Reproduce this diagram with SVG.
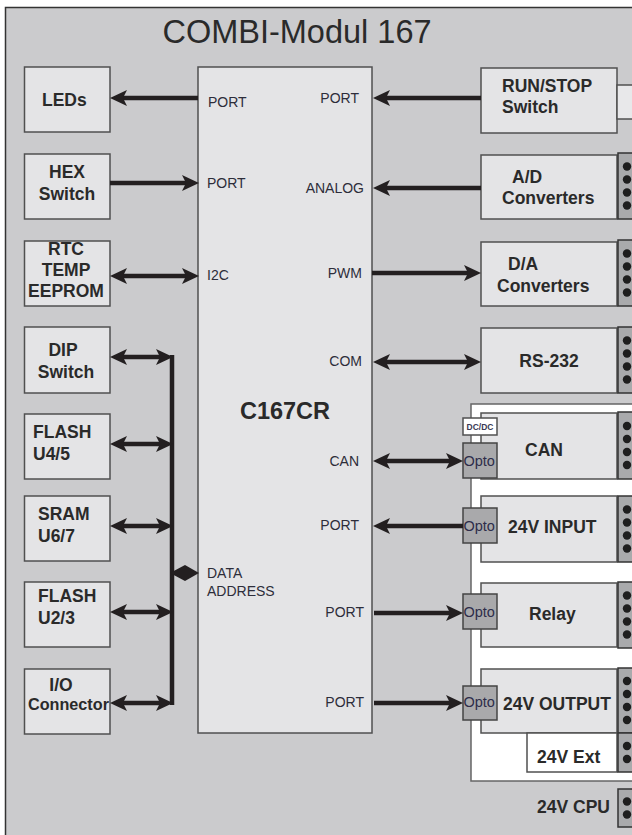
<svg xmlns="http://www.w3.org/2000/svg" width="632" height="835" viewBox="0 0 632 835">
<style>
.frame{fill:#cbcbcd;stroke:#333;stroke-width:1.5}
.box{fill:#e4e4e6;stroke:#505050;stroke-width:1.5}
.wbox{fill:#fff;stroke:#505050;stroke-width:1.5}
.opto{fill:#a9a9ab;stroke:#444;stroke-width:1.5}
.strip{fill:#a9aaac;stroke:#333;stroke-width:1.5}
.dot{fill:#1e1e1e}
.b{font-family:"Liberation Sans",Arial,sans-serif;font-weight:bold;font-size:17.5px;fill:#2a2a2a}
.r{font-family:"Liberation Sans",Arial,sans-serif;font-size:14px;fill:#2d2d3a}
.o{font-family:"Liberation Sans",Arial,sans-serif;font-size:14.5px;fill:#2d2d4a}
.c{stroke:#231f20;stroke-width:4.5;fill:none}
</style>
<defs>
<marker id="ah" viewBox="0 -9 18 18" refX="4" refY="0" markerWidth="18" markerHeight="18" markerUnits="userSpaceOnUse" orient="auto-start-reverse">
<path d="M0,-8 L17,0 L0,8 L4,0 Z" fill="#231f20"/>
</marker>
</defs>

<rect class="frame" x="5.5" y="7.5" width="700" height="900"/>
<text x="297" y="43" text-anchor="middle" font-family="'Liberation Sans',Arial,sans-serif" font-size="32.5" fill="#2a2a2a">COMBI-Modul 167</text>

<rect x="471" y="404" width="200" height="377" fill="#fff" stroke="#666" stroke-width="1.5"/>

<g id="chip">
<rect class="box" x="198" y="67" width="174" height="666"/>
<text class="b" x="285" y="419" text-anchor="middle" style="font-size:23.5px">C167CR</text>
<text class="r" x="208" y="107">PORT</text>
<text class="r" x="359" y="103" text-anchor="end">PORT</text>
<text class="r" x="207" y="188">PORT</text>
<text class="r" x="364" y="193" text-anchor="end">ANALOG</text>
<text class="r" x="207" y="280">I2C</text>
<text class="r" x="362" y="278" text-anchor="end">PWM</text>
<text class="r" x="362" y="366" text-anchor="end">COM</text>
<text class="r" x="359" y="466" text-anchor="end">CAN</text>
<text class="r" x="359" y="530" text-anchor="end">PORT</text>
<text class="r" x="207" y="578">DATA</text>
<text class="r" x="207" y="596">ADDRESS</text>
<text class="r" x="364" y="617" text-anchor="end">PORT</text>
<text class="r" x="364" y="707" text-anchor="end">PORT</text>
</g>

<g id="leds"><rect class="box" x="24.5" y="67" width="85.5" height="65"/><text class="b" x="42" y="106">LEDs</text></g>
<g id="hex"><rect class="box" x="24.5" y="154" width="85.5" height="65"/><text class="b" x="67" y="178" text-anchor="middle">HEX</text><text class="b" x="67" y="200" text-anchor="middle">Switch</text></g>
<g id="rtc"><rect class="box" x="24.5" y="241" width="85.5" height="65"/><text class="b" x="66" y="255" text-anchor="middle">RTC</text><text class="b" x="66" y="276" text-anchor="middle">TEMP</text><text class="b" x="66" y="297" text-anchor="middle">EEPROM</text></g>
<g id="dip"><rect class="box" x="24.5" y="327" width="85.5" height="66"/><text class="b" x="63" y="356" text-anchor="middle">DIP</text><text class="b" x="66" y="378" text-anchor="middle">Switch</text></g>
<g id="flash45"><rect class="box" x="24.5" y="414" width="85.5" height="65"/><text class="b" x="33" y="438">FLASH</text><text class="b" x="33" y="460">U4/5</text></g>
<g id="sram"><rect class="box" x="24.5" y="496" width="85.5" height="65"/><text class="b" x="38" y="520">SRAM</text><text class="b" x="38" y="542">U6/7</text></g>
<g id="flash23"><rect class="box" x="24.5" y="582" width="85.5" height="65"/><text class="b" x="38" y="602">FLASH</text><text class="b" x="38" y="624">U2/3</text></g>
<g id="io"><rect class="box" x="24.5" y="669" width="85.5" height="65"/><text class="b" x="61" y="691" text-anchor="middle">I/O</text><text class="b" x="28" y="710" style="font-size:16.2px">Connector</text></g>

<g id="runstop"><rect class="box" x="481" y="68" width="136" height="65"/><rect x="617" y="85" width="30" height="34" fill="#e8e8ea" stroke="#505050" stroke-width="1.5"/><text class="b" x="502" y="92">RUN/STOP</text><text class="b" x="502" y="113">Switch</text></g>
<g id="ad"><rect class="box" x="481" y="155" width="136" height="64"/><rect class="strip" x="618" y="153" width="30" height="66"/><circle class="dot" cx="627" cy="166.5" r="4.2"/><circle class="dot" cx="627" cy="179.5" r="4.2"/><circle class="dot" cx="627" cy="192.5" r="4.2"/><circle class="dot" cx="627" cy="205.5" r="4.2"/><text class="b" x="512" y="183">A/D</text><text class="b" x="502" y="204">Converters</text></g>
<g id="da"><rect class="box" x="481" y="242" width="136" height="64"/><rect class="strip" x="618" y="240" width="30" height="66"/><circle class="dot" cx="627" cy="253.5" r="4.2"/><circle class="dot" cx="627" cy="266.5" r="4.2"/><circle class="dot" cx="627" cy="279.5" r="4.2"/><circle class="dot" cx="627" cy="292.5" r="4.2"/><text class="b" x="508" y="270">D/A</text><text class="b" x="497" y="292">Converters</text></g>
<g id="rs232"><rect class="box" x="481" y="328" width="136" height="65"/><rect class="strip" x="618" y="327" width="30" height="66"/><circle class="dot" cx="627" cy="340.5" r="4.2"/><circle class="dot" cx="627" cy="353.5" r="4.2"/><circle class="dot" cx="627" cy="366.5" r="4.2"/><circle class="dot" cx="627" cy="379.5" r="4.2"/><text class="b" x="549" y="367" text-anchor="middle">RS-232</text></g>
<g id="can"><rect class="box" x="481" y="413" width="136" height="66"/><rect class="strip" x="618" y="412" width="30" height="67"/><circle class="dot" cx="627" cy="426" r="4.2"/><circle class="dot" cx="627" cy="439" r="4.2"/><circle class="dot" cx="627" cy="452" r="4.2"/><circle class="dot" cx="627" cy="465" r="4.2"/><text class="b" x="525" y="456">CAN</text>
<rect class="wbox" x="463" y="418" width="34" height="17"/><text x="480" y="430" text-anchor="middle" font-family="'Liberation Sans',Arial,sans-serif" font-weight="bold" font-size="8.5" fill="#3a3a55">DC/DC</text>
<rect class="opto" x="463" y="443" width="34" height="35"/><text class="o" x="463.5" y="466">Opto</text></g>
<g id="input"><rect class="box" x="481" y="496" width="136" height="66"/><rect class="strip" x="618" y="496" width="30" height="66"/><circle class="dot" cx="627" cy="509.5" r="4.2"/><circle class="dot" cx="627" cy="522.5" r="4.2"/><circle class="dot" cx="627" cy="535.5" r="4.2"/><circle class="dot" cx="627" cy="548.5" r="4.2"/><text class="b" x="508" y="533">24V INPUT</text>
<rect class="opto" x="463" y="508" width="34" height="35"/><text class="o" x="463.5" y="531">Opto</text></g>
<g id="relay"><rect class="box" x="481" y="583" width="136" height="64"/><rect class="strip" x="618" y="582" width="30" height="66"/><circle class="dot" cx="627" cy="595.5" r="4.2"/><circle class="dot" cx="627" cy="608.5" r="4.2"/><circle class="dot" cx="627" cy="621.5" r="4.2"/><circle class="dot" cx="627" cy="634.5" r="4.2"/><text class="b" x="529" y="620">Relay</text>
<rect class="opto" x="463" y="594" width="34" height="35"/><text class="o" x="463.5" y="617">Opto</text></g>
<g id="output"><rect class="box" x="481" y="669" width="136" height="64"/><rect class="strip" x="618" y="668" width="30" height="65"/><circle class="dot" cx="627" cy="681" r="4.2"/><circle class="dot" cx="627" cy="694" r="4.2"/><circle class="dot" cx="627" cy="707" r="4.2"/><circle class="dot" cx="627" cy="720" r="4.2"/><text class="b" x="503" y="710">24V OUTPUT</text>
<rect class="opto" x="463" y="686" width="34" height="34"/><text class="o" x="463.5" y="707">Opto</text></g>
<g id="ext"><rect class="wbox" x="527" y="733" width="90" height="39"/><rect class="strip" x="618" y="733" width="30" height="39"/><circle class="dot" cx="627" cy="746" r="4.2"/><circle class="dot" cx="627" cy="759" r="4.2"/><text class="b" x="537" y="763">24V Ext</text></g>
<g id="cpu"><rect class="strip" x="618" y="789" width="30" height="38"/><circle class="dot" cx="627" cy="801.5" r="4.2"/><circle class="dot" cx="627" cy="814.5" r="4.2"/><text class="b" x="537" y="813">24V CPU</text></g>

<g id="connectors">
<path class="c" d="M198,98 L123,98" marker-end="url(#ah)"/>
<path class="c" d="M481,98 L386,98" marker-end="url(#ah)"/>
<path class="c" d="M110,183 L186,183" marker-end="url(#ah)"/>
<path class="c" d="M481,188 L386,188" marker-end="url(#ah)"/>
<path class="c" d="M123,276 L186,276" marker-start="url(#ah)" marker-end="url(#ah)"/>
<path class="c" d="M372,273 L468,273" marker-end="url(#ah)"/>
<path class="c" d="M386,362 L468,362" marker-start="url(#ah)" marker-end="url(#ah)"/>
<path class="c" d="M386,461 L450,461" marker-start="url(#ah)" marker-end="url(#ah)"/>
<path class="c" d="M463,526 L386,526" marker-end="url(#ah)"/>
<path class="c" d="M374,613 L450,613" marker-end="url(#ah)"/>
<path class="c" d="M374,703 L450,703" marker-end="url(#ah)"/>
<path class="c" d="M172,355 L172,705"/>
<path class="c" d="M123,357 L160,357" marker-start="url(#ah)" marker-end="url(#ah)"/>
<path class="c" d="M123,444 L160,444" marker-start="url(#ah)" marker-end="url(#ah)"/>
<path class="c" d="M123,526 L160,526" marker-start="url(#ah)" marker-end="url(#ah)"/>
<path class="c" d="M123,612 L160,612" marker-start="url(#ah)" marker-end="url(#ah)"/>
<path class="c" d="M123,703 L160,703" marker-start="url(#ah)" marker-end="url(#ah)"/>
<polygon points="170,573 185,565 199,573 185,581" fill="#231f20"/>
</g>
</svg>
